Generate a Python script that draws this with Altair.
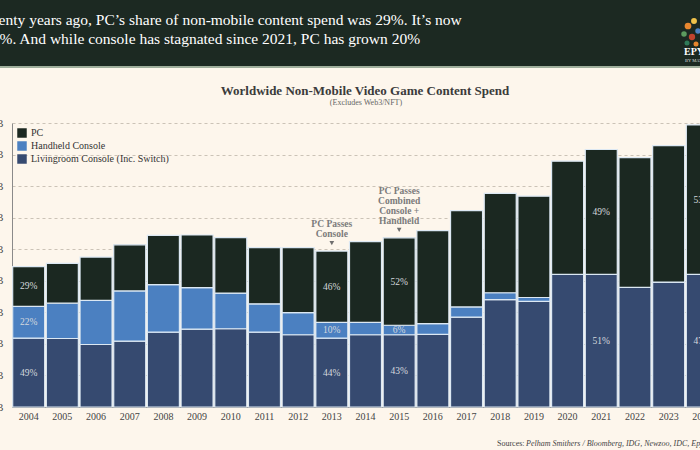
import altair as alt
import pandas as pd

# ---------------- data ----------------
years = list(range(2004, 2025))
livingroom = [21.8, 21.7, 19.8, 20.9, 23.7, 24.7, 24.8, 23.7, 22.9, 21.8, 22.9,
              22.9, 23.0, 28.5, 34.0, 33.5, 42.0, 42.0, 37.9, 39.6, 42.0]
handheld = [10.1, 11.2, 14.0, 15.9, 15.1, 13.1, 11.3, 9.0, 7.0, 5.0, 3.9,
            3.0, 3.4, 3.2, 2.2, 1.2, 0.0, 0.0, 0.0, 0.0, 0.0]
pc = [12.6, 12.6, 13.7, 14.6, 15.6, 16.7, 17.6, 17.8, 20.6, 22.6, 25.6,
      27.7, 29.5, 30.5, 31.5, 32.1, 35.9, 39.6, 41.1, 43.2, 47.4]

series_names = ["PC", "Handheld Console", "Livingroom Console (Inc. Switch)"]
series_colors = ["#1b2821", "#4b80c1", "#364a70"]

label_years = [2004, 2004, 2004, 2013, 2013, 2013, 2015, 2015, 2015, 2021, 2021, 2024, 2024]
label_series = ["PC", "Handheld Console", "Livingroom Console (Inc. Switch)"] * 3 + \
               ["PC", "Livingroom Console (Inc. Switch)"] * 2
label_text = ["29%", "22%", "49%", "46%", "10%", "44%", "52%", "6%", "43%",
              "49%", "51%", "53%", "47%"]

annot_years = [2013, 2015]
annot_text = ["PC Passes\nConsole", "PC Passes\nCombined\nConsole +\nHandheld"]

y_ticks = [0, 10, 20, 30, 40, 50, 60, 70, 80, 90]

headline_1 = "Twenty years ago, PC\u2019s share of non-mobile content spend was 29%. It\u2019s now"
headline_2 = "53%. And while console has stagnated since 2021, PC has grown 20%"
chart_title = "Worldwide Non-Mobile Video Game Content Spend"
chart_subtitle = "(Excludes Web3/NFT)"
sources_lead = "Sources:"
sources_body = "Pelham Smithers / Bloomberg, IDG, Newzoo, IDC, Epyllion"

# ---------------- tables ----------------
rows = []
for i, y in enumerate(years):
    base = 0.0
    for name, vals in [(series_names[2], livingroom), (series_names[1], handheld), (series_names[0], pc)]:
        v = vals[i]
        rows.append({"year": y, "series": name, "value": v, "y0": base, "y1": base + v,
                     "mid": base + v / 2})
        base += v
bars_df = pd.DataFrame(rows)

lab_df = pd.DataFrame({"year": label_years, "series": label_series, "text": label_text})
lab_df = lab_df.merge(bars_df[["year", "series", "mid"]], on=["year", "series"])

totals = {y: livingroom[i] + handheld[i] + pc[i] for i, y in enumerate(years)}
ann_df = pd.DataFrame({"year": annot_years, "text": annot_text,
                       "total": [totals[y] for y in annot_years]})
LINE_H = 10

one = pd.DataFrame({"k": [0]})
FONT = "Liberation Serif"

xscale = alt.Scale(domain=years, range=[0, 707], paddingInner=0.05, paddingOuter=0.02)
yscale = alt.Scale(domain=[0, 90], nice=False, zero=True)

xaxis = alt.Axis(labelAngle=0, ticks=False, labelPadding=4, labelFontSize=10,
                 labelFont=FONT, labelColor="#444", domainColor="#8a8a8a",
                 grid=False, labelOverlap=False)
yaxis = alt.Axis(values=y_ticks, labelExpr="'$' + datum.value + 'B'", ticks=False,
                 labelPadding=9, labelFontSize=10, labelFont=FONT, labelColor="#444",
                 labelOverlap=False, labelBound=False, labelFlush=False,
                 domainColor="#8a8a8a", gridColor="#cbc3b7", gridDash=[3, 3],
                 gridWidth=1)


def X(field):
    return alt.X(field, scale=xscale, axis=xaxis, title=None)


def Y(field):
    return alt.Y(field, scale=yscale, axis=yaxis, title=None)


bars = alt.Chart(bars_df).mark_bar(stroke="#dce8f3", strokeWidth=1.2).encode(
    x=X("year:O"),
    y=Y("y0:Q"),
    y2="y1:Q",
    color=alt.Color("series:N", scale=alt.Scale(domain=series_names, range=series_colors),
                    legend=alt.Legend(orient="none", legendX=5, legendY=5, title=None,
                                      symbolType="square", symbolSize=90,
                                      symbolStrokeWidth=0, labelFont=FONT,
                                      labelFontSize=10, labelColor="#333",
                                      rowPadding=3, symbolOpacity=1)),
    order=alt.Order("y0:Q"),
)

pct = alt.Chart(lab_df).mark_text(font=FONT, fontSize=9.5, color="#d5d9de").encode(
    x=X("year:O"), y=Y("mid:Q"), text="text:N")

ann_layers = []
for i in range(len(annot_years)):
    n_lines = annot_text[i].count("\n") + 1
    sub = ann_df.iloc[[i]]
    ann_layers.append(
        alt.Chart(sub).mark_text(font=FONT, fontSize=9.5, color="#7b7b7b",
                                 baseline="top", lineBreak="\n", lineHeight=LINE_H,
                                 fontWeight="bold", dy=-(n_lines * LINE_H) - 12).encode(
            x=X("year:O"), y=Y("total:Q"), text="text:N"))

ann_tri = alt.Chart(ann_df).mark_point(shape="triangle-down", filled=True, size=22,
                                       color="#6e6e6e", opacity=1, yOffset=-8).encode(
    x=X("year:O"), y=Y("total:Q"))

# ---------- header & decorations (pixel positions relative to plot origin 12,123) ----------
header = alt.Chart(one).mark_rect(color="#1c2922").encode(
    x=alt.value(-20), x2=alt.value(700), y=alt.value(-130), y2=alt.value(-57))
header_line = alt.Chart(one).mark_rule(color="#9fae9c", strokeWidth=2).encode(
    x=alt.value(-20), x2=alt.value(700), y=alt.value(-56))

h1 = alt.Chart(one).mark_text(font=FONT, fontSize=15.5, color="#ffffff", align="left",
                              baseline="middle").encode(
    x=alt.value(-33), y=alt.value(-103), text=alt.value(headline_1))
h2 = alt.Chart(one).mark_text(font=FONT, fontSize=15.5, color="#ffffff", align="left",
                              baseline="middle").encode(
    x=alt.value(-28), y=alt.value(-84), text=alt.value(headline_2))

title = alt.Chart(one).mark_text(font=FONT, fontSize=13, fontWeight="bold", color="#3b3b3b",
                                 align="center", baseline="middle").encode(
    x=alt.value(353), y=alt.value(-32), text=alt.value(chart_title))
subtitle = alt.Chart(one).mark_text(font=FONT, fontSize=8, color="#666666",
                                    align="center", baseline="middle").encode(
    x=alt.value(354), y=alt.value(-20), text=alt.value(chart_subtitle))

src1 = alt.Chart(one).mark_text(font=FONT, fontSize=8, color="#444444", align="left",
                                baseline="middle").encode(
    x=alt.value(485), y=alt.value(321), text=alt.value(sources_lead))
src2 = alt.Chart(one).mark_text(font=FONT, fontSize=8, color="#444444", align="left",
                                baseline="middle", fontStyle="italic").encode(
    x=alt.value(514), y=alt.value(321), text=alt.value(sources_body))

logo_text = alt.Chart(one).mark_text(font=FONT, fontSize=10, fontWeight="bold",
                                     color="#ffffff", align="left", baseline="middle").encode(
    x=alt.value(672), y=alt.value(-71), text=alt.value("EPYLLION"))
logo_sub = alt.Chart(one).mark_text(font=FONT, fontSize=4.5, color="#dddddd", align="left",
                                    baseline="middle").encode(
    x=alt.value(673), y=alt.value(-62), text=alt.value("BY MATTHEW BALL"))

flower_layers = []
for (fx, fy, fc, fs) in [(676, -97, "#e8872f", 45), (682, -102, "#f0c24a", 35),
                         (672, -89, "#5c9b5e", 30), (680, -86, "#c0432e", 40),
                         (686, -92, "#4b80c1", 30), (675, -80, "#2f7a58", 25),
                         (684, -79, "#e8872f", 25)]:
    flower_layers.append(alt.Chart(one).mark_circle(color=fc, size=fs, opacity=1).encode(
        x=alt.value(fx), y=alt.value(fy)))

chart = alt.layer(
    bars, pct, *ann_layers, ann_tri, header, header_line, h1, h2, title, subtitle,
    src1, src2, logo_text, logo_sub, *flower_layers
).properties(
    width=688, height=284,
    autosize=alt.AutoSizeParams(type="none"),
    padding={"left": 12, "top": 123, "right": 0, "bottom": 43},
    background="#fdf6ec",
).configure_view(stroke=None)

chart.save("out.html", embed_options={"renderer": "svg", "actions": False})
